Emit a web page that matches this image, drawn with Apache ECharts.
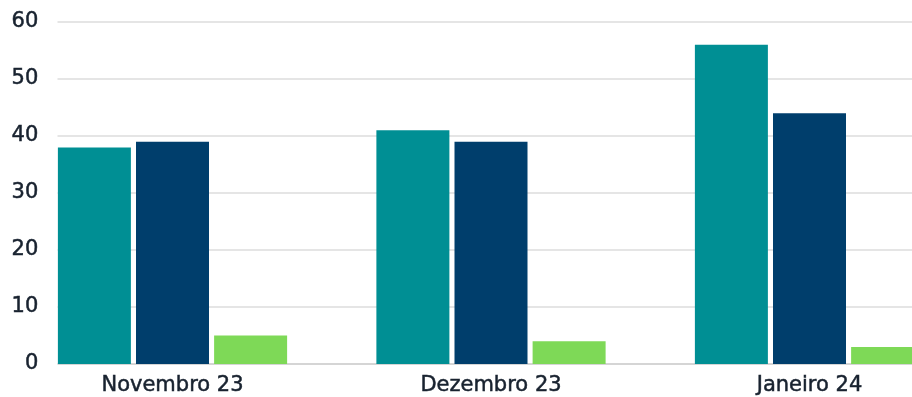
<!DOCTYPE html>
<html><head><meta charset="utf-8">
<script src="https://cdn.jsdelivr.net/npm/echarts@6/dist/echarts.min.js"></script>
<style>html,body{margin:0;padding:0;background:#fff}#c{width:912px;height:397px}</style>
</head><body><div id="c"></div>
<script>
const categories = ['Novembro 23', 'Dezembro 23', 'Janeiro 24'];
const seriesA = [38, 41, 56];
const seriesB = [39, 39, 44];
const seriesC = [5, 4, 3];
const yTicks = [0, 10, 20, 30, 40, 50, 60];

const chart = echarts.init(document.getElementById('c'));
const font = {fontFamily: 'DejaVu Sans', fontSize: 21, fontWeight: 'normal', color: '#18222f',
              textBorderColor: '#18222f', textBorderWidth: 0.5};
chart.setOption({
  animation: false,
  grid: {left: 13.25, width: 955.5, top: 22, bottom: 33, containLabel: false, outerBoundsMode: 'none'},
  xAxis: {
    type: 'category', data: categories,
    axisLine: {lineStyle: {color: '#cfcfcf', width: 1.5}},
    axisTick: {show: false},
    axisLabel: Object.assign({margin: 11}, font)
  },
  yAxis: [
    {type: 'value', min: 0, max: 60, interval: 10, z: 0,
     axisLabel: {show: false}, axisLine: {show: false}, axisTick: {show: false},
     splitLine: {lineStyle: {color: '#dcdcdc', width: 1.5}}},
    {type: 'value', min: 0, max: 60, interval: 10, z: 5, position: 'left',
     axisLabel: Object.assign({margin: -25, formatter: v => yTicks.includes(v) ? String(v) : ''}, font),
     axisLine: {show: false}, axisTick: {show: false}, splitLine: {show: false}}
  ],
  graphic: [{type: 'rect', z: 3, zlevel: 0, left: 0, top: 0, shape: {width: 57.5, height: 368}, style: {fill: '#ffffff'}}],
  series: [
    {type: 'bar', data: seriesA, barWidth: 73, barGap: '7%', itemStyle: {color: '#008f94'}, z: 4},
    {type: 'bar', data: seriesB, barWidth: 73, barGap: '7%', itemStyle: {color: '#003e6c'}, z: 4},
    {type: 'bar', data: seriesC, barWidth: 73, barGap: '7%', itemStyle: {color: '#7ed957'}, z: 4}
  ]
});
</script></body></html>
